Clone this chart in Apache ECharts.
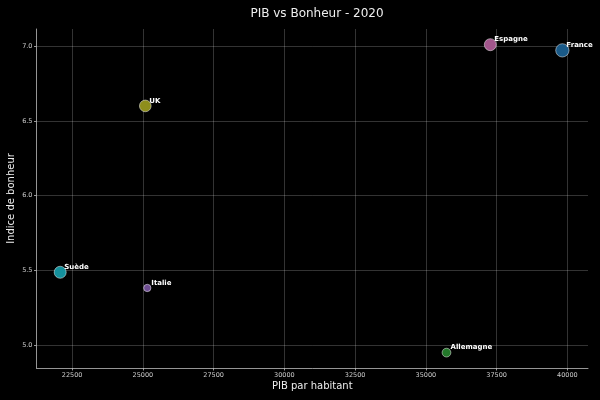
<!DOCTYPE html>
<html>
<head>
<meta charset="utf-8">
<script src="https://cdn.jsdelivr.net/npm/echarts@6/dist/echarts.min.js"></script>
<style>html,body{margin:0;padding:0;background:#000;}#c{width:600px;height:400px;}</style>
</head>
<body>
<div id="c"></div>
<script>
const countries = ['France', 'Allemagne', 'Italie', 'Espagne', 'UK', 'Suède'];
const gdpPerCapita = [39824, 35729, 25155, 37278, 25085, 22077];
const happiness = [6.973, 4.949, 5.382, 7.011, 6.601, 5.487];
const bubbleArea = [92, 40, 28, 75, 71, 75];
const colors = ['#1a5a88', '#23782a', '#6e4e92', '#a2568c', '#8e8e1c', '#14909c'];

const FONT = 'DejaVu Sans';
const chart = echarts.init(document.getElementById('c'), null, {renderer: 'canvas'});
const data = countries.map((name, i) => ({
  name: name,
  value: [gdpPerCapita[i], happiness[i], bubbleArea[i]],
  itemStyle: {color: colors[i]}
}));

chart.setOption({
  backgroundColor: '#000000',
  animation: false,
  title: {
    text: 'PIB vs Bonheur - 2020',
    left: 312, top: 3, textAlign: 'center',
    textStyle: {color: '#eeeeee', fontFamily: FONT, fontSize: 12, fontWeight: 'normal'}
  },
  grid: {left: 36.5, right: 12, top: 29, bottom: 32, containLabel: false, outerBoundsMode: 'none'},
  xAxis: {
    type: 'value',
    min: 21240, max: 40730,
    minInterval: 2500, maxInterval: 2500,
    name: 'PIB par habitant', nameLocation: 'middle', nameGap: 13, nameMoveOverlap: false,
    nameTextStyle: {color: '#eeeeee', fontFamily: FONT, fontSize: 10},
    axisLine: {show: true, lineStyle: {color: '#bbbbbb', width: 0.8}},
    axisTick: {show: true, length: 2.5, lineStyle: {color: '#bbbbbb', width: 0.8}},
    axisLabel: {color: '#cccccc', fontFamily: FONT, fontSize: 6.5, margin: 4,
      showMinLabel: false, showMaxLabel: false,
      formatter: v => String(v)},
    splitLine: {show: true, showMinLine: false, showMaxLine: false,
      lineStyle: {color: 'rgba(255,255,255,0.25)', width: 0.8}}
  },
  yAxis: {
    type: 'value',
    min: 4.846, max: 7.116,
    minInterval: 0.5, maxInterval: 0.5,
    name: 'Indice de bonheur', nameLocation: 'middle', nameGap: 20, nameRotate: 90, nameMoveOverlap: false,
    nameTextStyle: {color: '#eeeeee', fontFamily: FONT, fontSize: 10},
    axisLine: {show: true, lineStyle: {color: '#bbbbbb', width: 0.8}},
    axisTick: {show: true, length: 2.5, lineStyle: {color: '#bbbbbb', width: 0.8}},
    axisLabel: {color: '#cccccc', fontFamily: FONT, fontSize: 6.5, margin: 4,
      showMinLabel: false, showMaxLabel: false,
      formatter: v => v.toFixed(1)},
    splitLine: {show: true, showMinLine: false, showMaxLine: false,
      lineStyle: {color: 'rgba(255,255,255,0.25)', width: 0.8}}
  },
  series: [{
    type: 'scatter',
    data: data,
    symbolSize: v => Math.sqrt(v[2]) / 0.72,
    itemStyle: {borderColor: 'rgba(255,255,255,0.6)', borderWidth: 0.8, opacity: 1},
    label: {
      show: true,
      position: 'inside',
      align: 'left',
      verticalAlign: 'middle',
      offset: [4, -5],
      formatter: p => p.name,
      color: '#ffffff',
      fontFamily: FONT,
      fontSize: 7,
      fontWeight: 'bold'
    },
    emphasis: {disabled: true}
  }]
});
</script>
</body>
</html>
